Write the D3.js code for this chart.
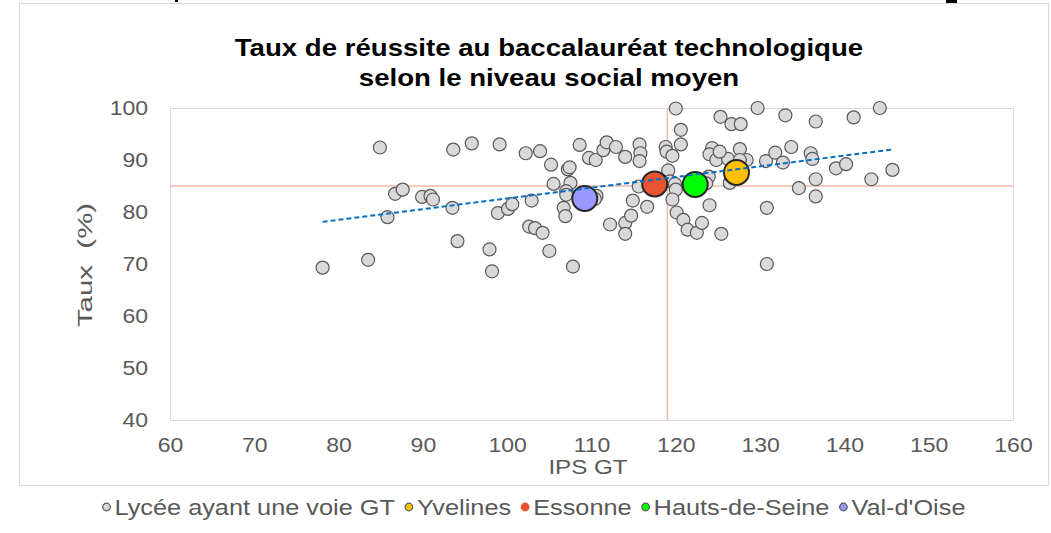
<!DOCTYPE html>
<html>
<head>
<meta charset="utf-8">
<script src="https://cdn.jsdelivr.net/npm/d3@7"></script>
<style>
  body { margin: 0; background: #fff; }
  svg { display: block; font-family: "Liberation Sans", Arial, sans-serif; }
</style>
</head>
<body>
<div id="chart"></div>
<script>
// lycées (IPS GT, taux de réussite)
var lyceeIps = [78.1, 83.5, 84.9, 85.8, 86.7, 87.6, 89.9, 90.9, 91.2, 93.6, 93.5, 94.1, 95.8, 99.1, 97.9, 98.2,
  98.9, 100.1, 100.6, 102.2, 103.9, 102.9, 102.6, 103.3, 104.2, 105.0, 105.2, 105.5, 107.2, 107.4, 107.5, 107.0,
  107.0, 106.7, 106.9, 107.8, 108.6, 109.7, 110.5, 110.6, 110.4, 111.4, 111.8, 112.9, 112.2, 114.0, 114.0, 114.7,
  114.0, 114.9, 115.7, 115.8, 115.7, 115.6, 116.6, 118.8, 118.9, 119.6, 119.1, 119.3, 119.9, 120.0, 119.6, 120.0,
  120.6, 120.6, 120.1, 120.9, 121.4, 122.5, 123.1, 123.9, 124.0, 124.3, 124.0, 124.8, 125.3, 125.4, 126.2, 126.6,
  127.7, 127.6, 128.4, 126.4, 125.2, 129.7, 130.7, 130.8, 130.8, 131.8, 132.7, 133.0, 133.7, 134.6, 136.0, 136.2,
  136.6, 136.6, 136.6, 139.0, 140.2, 141.1, 143.2, 144.2, 145.7, 123.6, 127.6];
var lyceeTaux = [69.3, 70.8, 92.4, 79.0, 83.5, 84.3, 82.9, 83.1, 82.4, 92.0, 80.8, 74.4, 93.2, 93.0, 72.8, 68.6,
  79.8, 80.6, 81.5, 91.3, 91.7, 82.2, 77.2, 76.9, 76.0, 72.5, 89.1, 85.4, 88.2, 88.6, 85.6, 84.0,
  83.3, 80.8, 79.2, 69.5, 92.9, 90.4, 90.0, 83.1, 82.5, 91.9, 93.4, 92.5, 77.6, 90.6, 77.9, 79.3,
  75.8, 82.2, 93.0, 91.3, 89.8, 84.9, 81.0, 92.5, 91.6, 90.8, 88.0, 85.9, 85.4, 84.3, 82.4, 99.9,
  95.8, 93.0, 79.9, 78.5, 76.6, 76.0, 77.9, 86.8, 81.3, 92.3, 91.1, 90.0, 98.3, 75.8, 90.2, 96.9,
  96.9, 92.1, 90.0, 85.6, 91.6, 100, 89.8, 80.8, 70.0, 91.4, 89.5, 98.6, 92.5, 84.6, 91.3, 90.2,
  97.4, 86.3, 83.0, 88.4, 89.2, 98.2, 86.3, 100, 88.1, 85.5, 90.0];

// départements
var deptNames = ["Yvelines", "Essonne", "Hauts-de-Seine", "Val-d'Oise"];
var deptIps = [127.2, 117.5, 122.3, 109.2];
var deptTaux = [87.6, 85.4, 85.3, 82.6];
var deptColors = ["#ffc000", "#e9532f", "#00ff00", "#9999ff"];

// courbe de tendance (extrémités)
var trendIps = [78.1, 145.6];
var trendTaux = [78.1, 92.0];

// repères
var refIps = 119;
var refTaux = 85;

var xTicks = [60, 70, 80, 90, 100, 110, 120, 130, 140, 150, 160];
var yTicks = [40, 50, 60, 70, 80, 90, 100];

var W = 1051, H = 533;
var plot = { left: 170, right: 1013, top: 108, bottom: 420 };
var textColor = "#595959";
var stretchK = 1.15;

// widen glyphs a little, the original font runs wider than Liberation Sans
function stretch(sel, k) {
  sel.each(function () {
    var w = this.getComputedTextLength();
    this.setAttribute("textLength", w * k);
    this.setAttribute("lengthAdjust", "spacingAndGlyphs");
  });
}

var svg = d3.select("#chart").append("svg")
  .attr("width", W)
  .attr("height", H);

// bits of the page above the chart
svg.append("rect").attr("x", 946).attr("y", 0).attr("width", 11).attr("height", 5).attr("fill", "#000");
svg.append("rect").attr("x", 175).attr("y", 0).attr("width", 3).attr("height", 2).attr("fill", "#000");

// chart frame
svg.append("rect")
  .attr("x", 19.5).attr("y", 3.5)
  .attr("width", 1029).attr("height", 482)
  .attr("fill", "#fff")
  .attr("stroke", "#d9d9d9");

var x = d3.scaleLinear().domain([60, 160]).range([plot.left, plot.right]);
var y = d3.scaleLinear().domain([40, 100]).range([plot.bottom, plot.top]);

// plot border
svg.append("rect")
  .attr("x", plot.left + 0.5).attr("y", plot.top + 0.5)
  .attr("width", plot.right - plot.left).attr("height", plot.bottom - plot.top)
  .attr("fill", "none")
  .attr("stroke", "#d9d9d9");

// axes
var xAxis = svg.append("g")
  .attr("transform", "translate(0," + plot.bottom + ")")
  .call(d3.axisBottom(x).tickValues(xTicks).tickSize(0).tickPadding(18));
var yAxis = svg.append("g")
  .attr("transform", "translate(" + plot.left + ",0)")
  .call(d3.axisLeft(y).tickValues(yTicks).tickSize(0).tickPadding(22));
[xAxis, yAxis].forEach(function (g) {
  g.select(".domain").remove();
  g.selectAll("text")
    .attr("fill", textColor)
    .style("font-size", "20px")
    .style("font-family", "'Liberation Sans', Arial, sans-serif");
  stretch(g.selectAll("text"), stretchK);
});

// reference lines
svg.append("line")
  .attr("x1", plot.left).attr("x2", plot.right)
  .attr("y1", y(refTaux)).attr("y2", y(refTaux))
  .attr("stroke", "#f5b8aa").attr("stroke-width", 1.5);
svg.append("line")
  .attr("x1", x(refIps)).attr("x2", x(refIps))
  .attr("y1", plot.top).attr("y2", plot.bottom)
  .attr("stroke", "#f5b8aa").attr("stroke-width", 1.5);

// lycées
svg.append("g").selectAll("circle")
  .data(lyceeIps)
  .enter().append("circle")
  .attr("cx", function (d) { return x(d); })
  .attr("cy", function (d, i) { return y(lyceeTaux[i]); })
  .attr("r", 6.5)
  .attr("fill", "#d9d9d9")
  .attr("stroke", "#595959")
  .attr("stroke-width", 1.2);

// départements
svg.append("g").selectAll("circle")
  .data(deptNames)
  .enter().append("circle")
  .attr("cx", function (d, i) { return x(deptIps[i]); })
  .attr("cy", function (d, i) { return y(deptTaux[i]); })
  .attr("r", 12.5)
  .attr("fill", function (d, i) { return deptColors[i]; })
  .attr("stroke", "#262626")
  .attr("stroke-width", 2);

// trend line
svg.append("line")
  .attr("x1", x(trendIps[0])).attr("y1", y(trendTaux[0]))
  .attr("x2", x(trendIps[1])).attr("y2", y(trendTaux[1]))
  .attr("stroke", "#0070c0")
  .attr("stroke-width", 2)
  .attr("stroke-dasharray", "5,3");

// title
var title1 = svg.append("text")
  .attr("x", 549).attr("y", 56)
  .attr("text-anchor", "middle")
  .attr("font-weight", "bold")
  .style("font-size", "24px")
  .attr("fill", "#000")
  .text("Taux de réussite au baccalauréat technologique");
var title2 = svg.append("text")
  .attr("x", 549).attr("y", 86)
  .attr("text-anchor", "middle")
  .attr("font-weight", "bold")
  .style("font-size", "24px")
  .attr("fill", "#000")
  .text("selon le niveau social moyen");
stretch(title1, stretchK);
stretch(title2, stretchK);

// axis titles
var xTitle = svg.append("text")
  .attr("x", 588).attr("y", 474)
  .attr("text-anchor", "middle")
  .attr("fill", textColor)
  .style("font-size", "21px")
  .text("IPS GT");
stretch(xTitle, stretchK);
var yTitle = svg.append("text")
  .attr("transform", "translate(85,265) rotate(-90)")
  .attr("dy", "0.35em")
  .attr("text-anchor", "middle")
  .attr("fill", textColor)
  .style("font-size", "21px")
  .style("white-space", "pre")
  .text("Taux  (%)");
stretch(yTitle, 1.4);

// legend
var legendNames = ["Lycée ayant une voie GT"].concat(deptNames);
var legendColors = ["#d9d9d9"].concat(deptColors);
var legend = svg.append("g");
var cursor = 0;
legendNames.forEach(function (name, i) {
  var item = legend.append("g").attr("transform", "translate(" + cursor + ",0)");
  item.append("circle")
    .attr("cx", 4).attr("cy", 0).attr("r", 3.8)
    .attr("fill", legendColors[i])
    .attr("stroke", i === 2 ? legendColors[i] : "#595959")
    .attr("stroke-width", 1.2);
  var t = item.append("text")
    .attr("x", 12).attr("dy", "0.35em")
    .attr("fill", textColor)
    .style("font-size", "22px")
    .text(name);
  var w = t.node().getComputedTextLength() * stretchK;
  stretch(t, stretchK);
  cursor += 12 + w + 10;
});
cursor -= 10;
legend.attr("transform", "translate(" + (534 - cursor / 2) + ",507)");
</script>
</body>
</html>
